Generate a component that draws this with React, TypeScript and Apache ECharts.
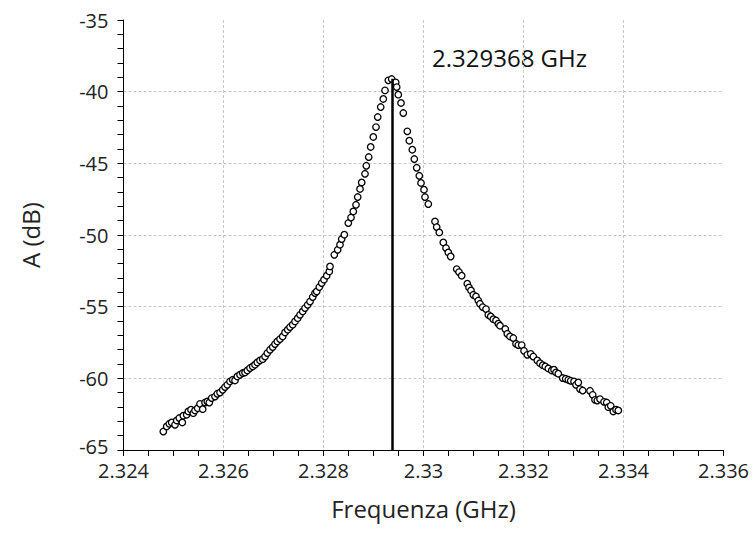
import React, { useEffect, useRef } from "react";
import * as echarts from "echarts";

const freqLeftTail = [
  2.324796, 2.324864, 2.324916, 2.324964, 2.32503, 2.325064, 2.325116, 2.325176, 2.325196, 2.325264,
  2.325296, 2.32535, 2.325396, 2.32543, 2.325484, 2.32553, 2.325584, 2.32563, 2.325676, 2.325716,
  2.325764, 2.32583, 2.325876, 2.32593, 2.325984, 2.32603, 2.326076, 2.32613, 2.326184, 2.32623,
  2.326276, 2.32633, 2.326384, 2.32643, 2.326476, 2.32653, 2.326584, 2.32663, 2.326676, 2.32673,
  2.326784, 2.32683, 2.326876, 2.32693, 2.326984, 2.32703, 2.327076, 2.32713, 2.327184, 2.32723,
  2.327284, 2.32733, 2.327384, 2.32743, 2.327484, 2.32753, 2.327584, 2.32763, 2.327684, 2.32773,
  2.327784, 2.32783, 2.327864, 2.327916, 2.327964, 2.32801, 2.328064, 2.328116,
];
const ampLeftTail = [
  -63.71, -63.36, -63.17, -63.08, -63.24, -62.94, -62.77, -63.08, -62.61, -62.54,
  -62.31, -62.19, -62.43, -62.24, -62.08, -61.78, -62.15, -61.69, -61.62, -61.69,
  -61.38, -61.27, -61.08, -60.99, -60.8, -60.61, -60.45, -60.22, -60.1, -60.15,
  -59.87, -59.75, -59.63, -59.59, -59.45, -59.28, -59.17, -59.05, -58.89, -58.75,
  -58.66, -58.48, -58.24, -58.01, -57.82, -57.61, -57.43, -57.26, -57.08, -56.8,
  -56.61, -56.42, -56.26, -56.03, -55.8, -55.57, -55.33, -55.1, -54.87, -54.64,
  -54.33, -54.05, -53.94, -53.63, -53.35, -53.12, -52.84, -52.54,
];
const freqPeak = [
  2.32813, 2.328216, 2.328284, 2.32833, 2.328364, 2.328416, 2.328496, 2.32855, 2.328596, 2.32865,
  2.328684, 2.32873, 2.328764, 2.32883, 2.328856, 2.328904, 2.328944, 2.328996, 2.32905, 2.329084,
  2.329144, 2.329196, 2.32923, 2.329296, 2.329364, 2.329444, 2.329464, 2.329496, 2.32955, 2.329596,
  2.329676, 2.329716, 2.329776, 2.329816, 2.329864, 2.329916, 2.32995, 2.33001, 2.33003, 2.330096,
  2.33023, 2.330264, 2.330316, 2.330396, 2.33045, 2.330496, 2.330544, 2.330664, 2.33071, 2.330764,
];
const ampPeak = [
  -52.19, -51.38, -51.03, -50.68, -50.28, -49.98, -49.17, -48.78, -48.36, -47.89,
  -47.35, -46.79, -46.33, -45.73, -45.17, -44.56, -43.86, -43.16, -42.47, -41.77,
  -41.07, -40.51, -39.91, -39.21, -39.12, -39.35, -39.68, -40.21, -40.79, -41.49,
  -42.77, -43.42, -44.05, -44.7, -45.31, -45.87, -46.37, -46.84, -47.35, -47.84,
  -49.05, -49.45, -49.82, -50.52, -50.91, -51.22, -51.5, -52.38, -52.59, -52.84,
];
const freqRightTail = [
  2.330876, 2.33091, 2.33095, 2.330996, 2.33105, 2.331096, 2.33113, 2.331184, 2.33125, 2.331296,
  2.331344, 2.331396, 2.33145, 2.331496, 2.33153, 2.331636, 2.331676, 2.33173, 2.331796, 2.33185,
  2.331896, 2.331964, 2.33201, 2.332076, 2.332144, 2.332196, 2.332276, 2.33233, 2.332384, 2.332436,
  2.332496, 2.332564, 2.33261, 2.33265, 2.332696, 2.332784, 2.332844, 2.332896, 2.332944, 2.33301,
  2.33305, 2.333096, 2.33313, 2.333184, 2.33333, 2.333384, 2.33343, 2.333476, 2.33353, 2.33361,
  2.333664, 2.333696, 2.333744, 2.333796, 2.33385, 2.333896,
];
const ampRightTail = [
  -53.4, -53.66, -53.87, -54.17, -54.29, -54.57, -54.8, -55.03, -55.17, -55.57,
  -55.68, -55.87, -55.96, -56.19, -56.33, -56.56, -56.89, -57.08, -57.19, -57.59,
  -57.68, -57.68, -58.08, -58.36, -58.29, -58.48, -58.75, -58.94, -59.08, -59.17,
  -59.31, -59.45, -59.4, -59.59, -59.68, -59.98, -60.03, -60.1, -60.17, -60.22,
  -60.45, -60.29, -60.75, -60.85, -60.87, -61.15, -61.5, -61.55, -61.45, -61.64,
  -61.69, -62.01, -61.92, -62.31, -62.19, -62.24,
];

const resonanceFreq = 2.329368;
const resonanceAmp = -39.1;
const resonanceLabel = "2.329368 GHz";

const xTicks = [2.324, 2.326, 2.328, 2.33, 2.332, 2.334, 2.336];
const yTicks = [-65, -60, -55, -50, -45, -40, -35];

const FONT = "'Open Sans', 'Noto Sans', sans-serif";

export default function App() {
  const ref = useRef<HTMLDivElement>(null);

  useEffect(() => {
    if (!ref.current) return;
    const chart = echarts.init(ref.current, null, { renderer: "svg" });
    const freqs = [...freqLeftTail, ...freqPeak, ...freqRightTail];
    const amps = [...ampLeftTail, ...ampPeak, ...ampRightTail];
    const data = freqs.map((f, i) => [f, amps[i]]);

    const axisCommon = {
      axisLine: { show: true, onZero: false, lineStyle: { color: "#000", width: 1 } },
      axisTick: { show: true, inside: false, length: 6, lineStyle: { color: "#000", width: 1 } },
      minorTick: { show: true, length: 6, lineStyle: { color: "#000", width: 1 } },
      splitLine: {
        show: true,
        showMaxLine: false,
        showMinLine: false,
        lineStyle: { color: "#c8c8c8", type: [3, 2], width: 1 },
      },
      nameTextStyle: { fontFamily: FONT, fontSize: 24, color: "#222" },
    };

    chart.setOption({
      animation: false,
      backgroundColor: "#fff",
      grid: { left: 123.5, right: 30.5, top: 20, bottom: 99, containLabel: false },
      xAxis: {
        type: "value",
        min: xTicks[0],
        max: xTicks[xTicks.length - 1],
        interval: 0.002,
        name: "Frequenza (GHz)",
        nameLocation: "middle",
        nameGap: 46,
        ...axisCommon,
        minorTick: { ...axisCommon.minorTick, splitNumber: 4 },
        axisLabel: {
          fontFamily: FONT,
          fontSize: 20,
          lineHeight: 16,
          color: "#222",
          margin: 12,
          showMaxLabel: true,
          showMinLabel: true,
          formatter: (v: number) => String(parseFloat(v.toFixed(4))),
        },
      },
      yAxis: {
        type: "value",
        min: yTicks[0],
        max: yTicks[yTicks.length - 1],
        interval: 5,
        name: "A (dB)",
        nameLocation: "middle",
        nameGap: 81,
        ...axisCommon,
        minorTick: { ...axisCommon.minorTick, splitNumber: 5 },
        axisLabel: {
          fontFamily: FONT,
          fontSize: 20,
          lineHeight: 16,
          color: "#222",
          margin: 15,
          showMaxLabel: true,
          showMinLabel: true,
          formatter: (v: number) => (v === yTicks[0] ? `{low|${v}}` : String(v)),
          rich: {
            low: {
              fontFamily: FONT,
              fontSize: 20,
              lineHeight: 16,
              color: "#222",
              padding: [0, 0, 8, 0],
            },
          },
        },
      },
      graphic: [
        {
          type: "text",
          left: 432,
          top: 45,
          style: { text: resonanceLabel, fontFamily: FONT, fontSize: 24, fill: "#111" },
        },
      ],
      series: [
        {
          type: "scatter",
          data,
          symbol: "circle",
          symbolSize: 6.5,
          itemStyle: { color: "#fff", borderColor: "#000", borderWidth: 1.3, opacity: 1 },
          z: 3,
          markLine: {
            silent: true,
            symbol: ["none", "none"],
            label: { show: false },
            lineStyle: { color: "#000", width: 2.5, type: "solid" },
            data: [
              [
                { coord: [resonanceFreq, resonanceAmp] },
                { coord: [resonanceFreq, yTicks[0]] },
              ],
            ],
          },
        },
      ],
    });
    return () => chart.dispose();
  }, []);

  return (
    <div
      ref={ref}
      style={{ position: "fixed", left: 0, top: 0, width: 754, height: 549 }}
    />
  );
}
